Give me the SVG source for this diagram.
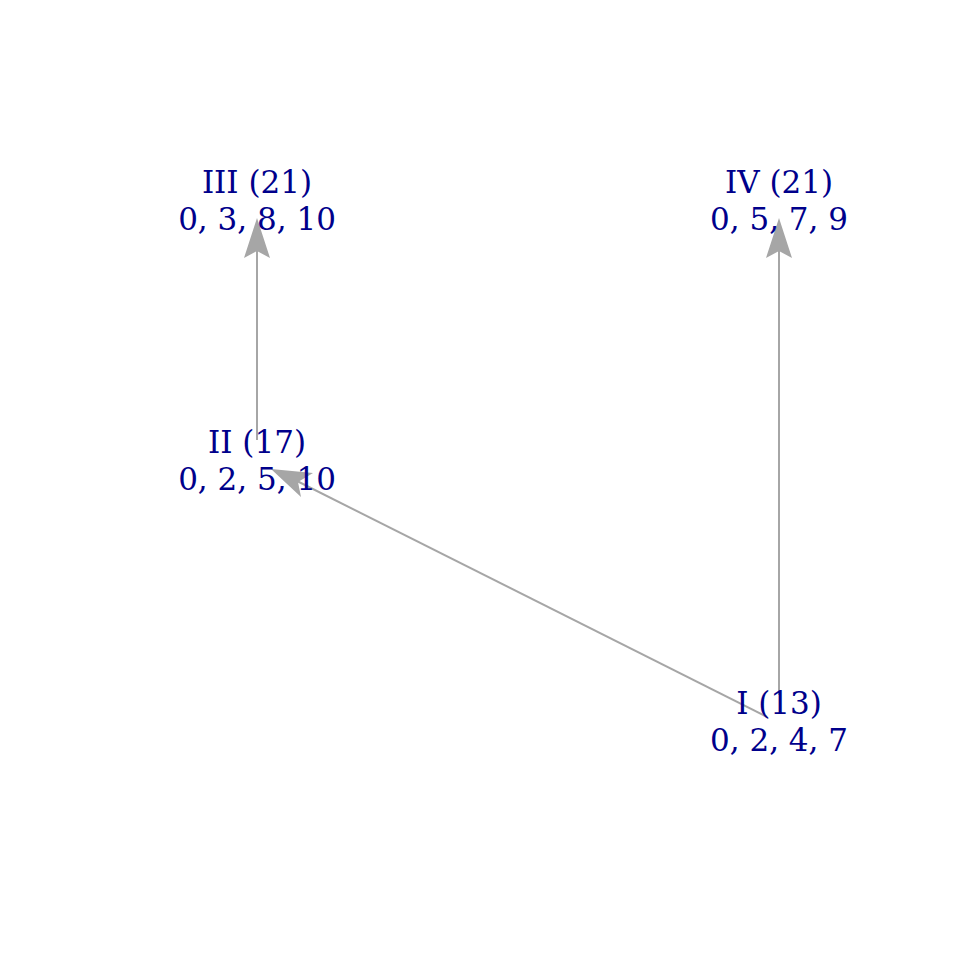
<svg xmlns="http://www.w3.org/2000/svg" width="960" height="960" viewBox="0 0 960 960">
<style>
.l{font-family:"DejaVu Serif",serif;font-size:31px;fill:#00008b;text-anchor:middle}
.e{stroke:#a6a6a6;stroke-width:2;fill:none}
.h{fill:#a6a6a6}
</style>
<rect width="960" height="960" fill="#fff"/>
<g id="edges">
<line class="e" x1="257" y1="440" x2="257" y2="250"/>
<polygon class="h" points="257,218 270,258 257,251 244,258"/>
<line class="e" x1="779" y1="695" x2="779" y2="250"/>
<polygon class="h" points="779,218 792,258 779,251 766,258"/>
<line class="e" x1="767" y1="717" x2="295" y2="480"/>
<polygon class="h" points="271,469 313,473 298,482 301,497"/>
</g>
<g id="III"><text class="l" x="257" y="193">III (21)</text><text class="l" x="257" y="230">0, 3, 8, 10</text></g>
<g id="IV"><text class="l" x="779" y="193">IV (21)</text><text class="l" x="779" y="230">0, 5, 7, 9</text></g>
<g id="II"><text class="l" x="257" y="453">II (17)</text><text class="l" x="257" y="490">0, 2, 5, 10</text></g>
<g id="I"><text class="l" x="779" y="714">I (13)</text><text class="l" x="779" y="751">0, 2, 4, 7</text></g>
</svg>
